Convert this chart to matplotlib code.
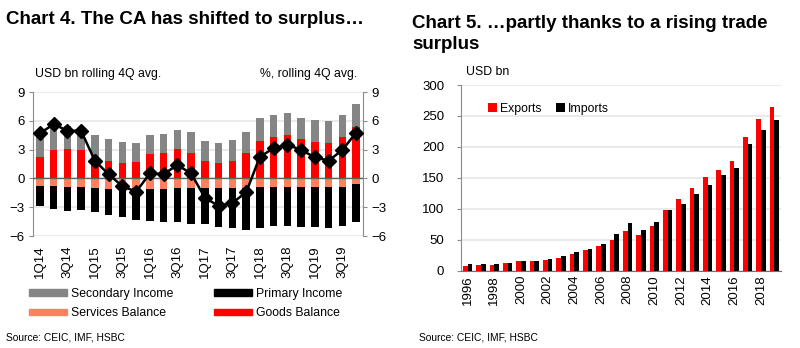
import matplotlib
matplotlib.use("Agg")
import matplotlib.pyplot as plt
from matplotlib.patches import Patch
import numpy as np

plt.rcParams['font.family'] = ['Liberation Sans', 'DejaVu Sans']

# Chart 4: current account components, USD bn rolling 4Q avg.
quarters = ['1Q14', '2Q14', '3Q14', '4Q14', '1Q15', '2Q15', '3Q15', '4Q15',
            '1Q16', '2Q16', '3Q16', '4Q16', '1Q17', '2Q17', '3Q17', '4Q17',
            '1Q18', '2Q18', '3Q18', '4Q18', '1Q19', '2Q19', '3Q19', '4Q19']
goods_balance = [2.26, 2.96, 3.07, 2.96, 1.80, 1.81, 1.64, 1.74, 2.58, 2.65, 3.03, 2.65,
                 1.81, 1.57, 1.81, 2.61, 3.90, 4.29, 4.53, 4.08, 3.83, 3.73, 4.36, 5.33]
secondary_income = [2.79, 2.84, 2.43, 2.14, 2.69, 2.30, 2.19, 1.99, 1.95, 1.98, 2.02, 2.16,
                    2.09, 2.16, 2.19, 2.27, 2.37, 2.33, 2.26, 2.26, 2.23, 2.30, 2.26, 2.40]
services_balance = [-0.77, -0.77, -0.87, -0.94, -1.05, -1.15, -1.15, -1.05, -1.15, -1.10, -1.05, -1.05,
                    -1.05, -1.05, -1.05, -1.05, -0.94, -0.87, -0.87, -0.94, -0.94, -0.94, -0.87, -0.59]
primary_income = [-2.13, -2.37, -2.54, -2.37, -2.50, -2.61, -2.85, -3.31, -3.28, -3.43, -3.45, -3.65,
                  -3.75, -4.00, -4.11, -4.28, -4.18, -4.11, -4.11, -4.11, -4.11, -4.22, -4.11, -3.94]
# current account, % of GDP, rolling 4Q avg. (right axis)
ca_pct_gdp = [4.70, 5.64, 4.98, 4.95, 1.85, 0.42, -0.80, -1.39, 0.52, 0.45, 1.39, 0.52,
              -2.02, -2.86, -2.54, -1.46, 2.26, 3.14, 3.52, 2.96, 2.20, 1.85, 2.96, 4.77]

# Chart 5: annual trade, USD bn
years = list(range(1996, 2020))
exports = [8.1, 9.7, 9.7, 12.9, 15.1, 15.1, 17.2, 21.0, 27.5, 33.4, 40.3, 49.0,
           63.4, 58.0, 73.0, 97.3, 115.6, 133.3, 151.0, 163.4, 178.0, 216.0, 244.6, 265.0]
imports = [10.8, 11.3, 10.8, 11.8, 15.1, 15.1, 18.3, 23.7, 29.6, 35.5, 43.5, 59.7,
           76.3, 65.6, 78.5, 98.4, 107.0, 124.2, 138.7, 155.4, 166.7, 205.0, 228.0, 243.5]

RED = '#ff0000'
GREY = '#858585'
SALMON = '#ff8060'
BLACK = '#000000'
GRID = '#e6e6e6'
SPINE = '#8c8c8c'
TICK_FS = 9.5
TEXT_FS = 8.8

fig = plt.figure(figsize=(8.0, 3.48), dpi=100)

# ---- left chart ----
ax = fig.add_axes([0.04125, 0.3218, 0.4125, 0.4138])
x = np.arange(len(quarters))
w = 0.55
ax.bar(x, goods_balance, w, color=RED, zorder=3)
ax.bar(x, secondary_income, w, bottom=goods_balance, color=GREY, zorder=3)
ax.bar(x, services_balance, w, color=SALMON, zorder=3)
ax.bar(x, primary_income, w, bottom=services_balance, color=BLACK, zorder=3)
ax.axhline(0, color='#606060', lw=1.0, zorder=4)

ax.set_xlim(-0.5, len(quarters) - 0.5)
ax.set_ylim(-6, 9)
ax.set_yticks([-6, -3, 0, 3, 6, 9])
ax.yaxis.grid(True, color=GRID, lw=1.2, zorder=0)
ax.set_xticks(x[::2])
ax.set_xticklabels(quarters[::2], rotation=90, fontsize=TICK_FS)
ax.tick_params(axis='x', length=0, pad=7)
ax.tick_params(axis='y', labelsize=TICK_FS, length=3, color=SPINE, pad=3)
for side in ['top', 'bottom', 'right']:
    ax.spines[side].set_visible(False)
ax.spines['left'].set_color(SPINE)

ax2 = ax.twinx()
ax2.plot(x, ca_pct_gdp, color=BLACK, lw=1.8, marker='D', ms=7, zorder=5)
ax2.set_ylim(-6, 9)
ax2.set_yticks([-6, -3, 0, 3, 6, 9])
ax2.tick_params(axis='y', labelsize=TICK_FS, length=3, color=SPINE, pad=3)
for side in ['top', 'bottom', 'left']:
    ax2.spines[side].set_visible(False)
ax2.spines['right'].set_color(SPINE)

fig.text(35 / 800, 1 - 77 / 348, 'USD bn rolling 4Q avg.', fontsize=TEXT_FS, va='baseline')
fig.text(357 / 800, 1 - 77 / 348, '%, rolling 4Q avg.', fontsize=TEXT_FS, va='baseline', ha='right')

handles = [Patch(color=GREY), Patch(color=SALMON), Patch(color=BLACK), Patch(color=RED)]
labels = ['Secondary Income', 'Services Balance', 'Primary Income', 'Goods Balance']
fig.legend(handles, labels, loc='upper left', bbox_to_anchor=(24 / 800, 1 - 283 / 348),
           ncol=2, frameon=False, fontsize=TEXT_FS, handlelength=3.1, handleheight=0.45,
           handletextpad=0.35, columnspacing=3.3, labelspacing=0.62, borderaxespad=0)

# ---- right chart ----
bx = fig.add_axes([0.57625, 0.2221, 0.4, 0.5336])
yx = np.arange(len(years))
bw = 0.34
bx.bar(yx - bw / 2, exports, bw, color=RED, label='Exports', zorder=3)
bx.bar(yx + bw / 2, imports, bw, color=BLACK, label='Imports', zorder=3)
bx.set_xlim(-0.5, len(years) - 0.5)
bx.set_ylim(0, 300)
bx.set_yticks(range(0, 301, 50))
bx.yaxis.grid(True, color=GRID, lw=1.2, zorder=0)
bx.set_xticks(yx[::2])
bx.set_xticklabels([str(y) for y in years[::2]], rotation=90, fontsize=TICK_FS)
bx.tick_params(axis='x', length=0, pad=3)
bx.tick_params(axis='y', labelsize=TICK_FS, length=3, color=SPINE, pad=9)
for side in ['top', 'right']:
    bx.spines[side].set_visible(False)
bx.spines['left'].set_color(SPINE)
bx.spines['bottom'].set_color('#707070')
bx.legend(loc='upper left', bbox_to_anchor=(0.07, 0.93), frameon=False, ncol=2,
          fontsize=TEXT_FS, handlelength=0.75, handleheight=0.75, handletextpad=0.2,
          columnspacing=1.2, borderaxespad=0)

fig.text(466 / 800, 1 - 75 / 348, 'USD bn', fontsize=TEXT_FS, va='baseline')

# titles and sources
fig.text(6 / 800, 1 - 24 / 348, 'Chart 4. The CA has shifted to surplus\u2026',
         fontsize=13.5, fontweight='bold', va='baseline')
fig.text(412 / 800, 1 - 28 / 348, 'Chart 5. \u2026partly thanks to a rising trade',
         fontsize=13.5, fontweight='bold', va='baseline')
fig.text(412 / 800, 1 - 49 / 348, 'surplus',
         fontsize=13.5, fontweight='bold', va='baseline')
fig.text(6 / 800, 1 - 338 / 348, 'Source: CEIC, IMF, HSBC', fontsize=7.4, va='center')
fig.text(419 / 800, 1 - 338 / 348, 'Source: CEIC, IMF, HSBC', fontsize=7.4, va='center')

fig.savefig('out.png', dpi=100)
